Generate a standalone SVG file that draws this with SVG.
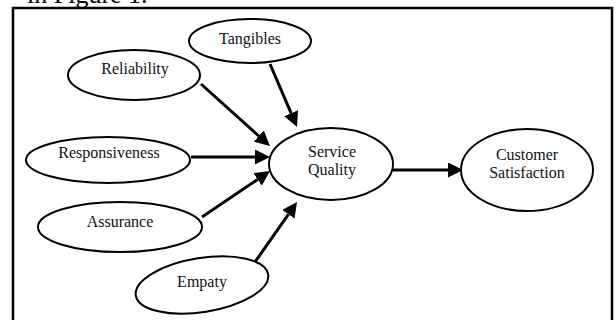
<svg xmlns="http://www.w3.org/2000/svg" width="616" height="320" viewBox="0 0 616 320">
<style>
.node ellipse{fill:#fff;stroke:#000;stroke-width:2}
.t{font-family:'Liberation Serif',Tinos,'Nimbus Roman','Nimbus Roman No9 L','Times New Roman',Times,serif;font-size:16px;fill:#111;text-anchor:middle}
.edge{stroke:#000;stroke-width:3;fill:none;marker-end:url(#ah)}
</style>
<defs>
<marker id="ah" markerUnits="userSpaceOnUse" markerWidth="15" markerHeight="15" refX="0" refY="7.5" orient="auto" viewBox="0 0 15 15">
<path d="M0,0 L15,7.5 L0,15 z" fill="#000"/>
</marker>
</defs>
<rect width="616" height="320" fill="#fff"/>
<text x="27" y="3" font-family="Liberation Serif, serif" font-size="26" fill="#000">in Figure 1.</text>
<rect x="13" y="8" width="599" height="330" fill="none" stroke="#000" stroke-width="2.5"/>
<g id="connectors">
<line class="edge" x1="201" y1="84" x2="258.8" y2="136"/>
<line class="edge" x1="270" y1="64" x2="291.1" y2="113.2"/>
<line class="edge" x1="191" y1="157" x2="255" y2="157"/>
<line class="edge" x1="202" y1="217" x2="257.6" y2="179.4"/>
<line class="edge" x1="255" y1="262" x2="288.4" y2="214.3"/>
<line class="edge" x1="393" y1="170" x2="448" y2="170"/>
</g>
<g id="tangibles" class="node"><ellipse cx="250" cy="41" rx="61" ry="22"/><text class="t" x="250" y="44">Tangibles</text></g>
<g id="reliability" class="node"><ellipse cx="134" cy="75" rx="66" ry="25"/><text class="t" x="135" y="74">Reliability</text></g>
<g id="responsiveness" class="node"><ellipse cx="108" cy="160" rx="82" ry="23"/><text class="t" x="109" y="158">Responsiveness</text></g>
<g id="assurance" class="node"><ellipse cx="120" cy="227" rx="82" ry="25"/><text class="t" x="120" y="227">Assurance</text></g>
<g id="empaty" class="node"><ellipse cx="202" cy="285" rx="67" ry="27" transform="rotate(-9 202 285)"/><text class="t" x="202" y="287">Empaty</text></g>
<g id="service-quality" class="node"><ellipse cx="331" cy="164" rx="62" ry="36"/><text class="t" x="332" y="157">Service</text><text class="t" x="332" y="175">Quality</text></g>
<g id="customer-satisfaction" class="node"><ellipse cx="527" cy="170" rx="66" ry="41"/><text class="t" x="527" y="160">Customer</text><text class="t" x="527" y="178">Satisfaction</text></g>
</svg>
